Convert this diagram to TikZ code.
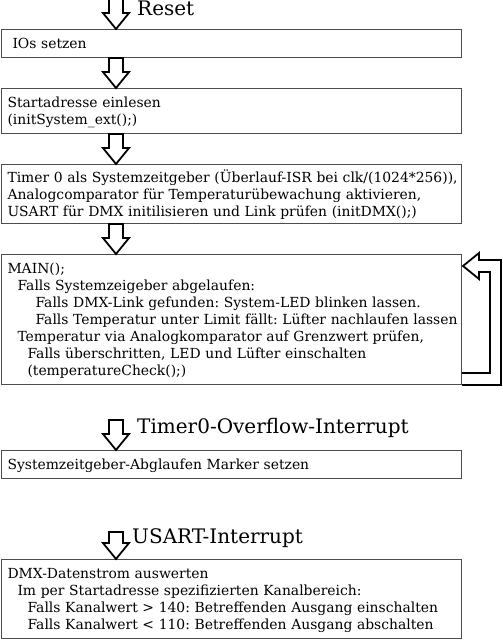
\documentclass[tikz,border=0pt]{standalone}
\usepackage{fontspec}
\setmainfont{DejaVu Serif}
\usetikzlibrary{calc,positioning}
\tikzset{
		x=1pt, y=1pt,
		stepbox/.style={
			rectangle,
			draw=black!70, line width=1pt,
			text width=458pt,
			inner xsep=1pt, inner ysep=5.5pt,
			align=left,
			font=\fontsize{13.9}{17}\selectfont\frenchspacing},
		pfeil/.style={draw=black, line width=1.8pt, fill=white, line join=miter},
		titel/.style={font=\fontsize{20}{23}\selectfont, inner sep=0pt},
	}
% hollow arrow down the axis, from #1 to tip at #2
\newcommand{\hohlpfeil}[2]{%
	\draw[pfeil] ($(achse |- #1)+(-7,0)$) -- ($(achse |- #2)+(-7,16)$) -- ($(achse |- #2)+(-13,16)$) -- (achse |- #2) -- ($(achse |- #2)+(13,16)$) -- ($(achse |- #2)+(7,16)$) -- ($(achse |- #1)+(7,0)$) -- cycle;}
\newcommand{\einzug}[1]{\hspace*{#1pt}}
\newcommand{\zeile}{\rule[-3.5pt]{0pt}{17pt}\hspace*{5pt}}
\begin{document}
\begin{tikzpicture}[node distance=30pt]
	\useasboundingbox (0,0) rectangle (503,-640);
	\coordinate (achse) at (116,0);
	
	%% Reset
	\coordinate (resetstart) at (116,2);
	\node[titel, anchor=base west] (reset) at (137,-15) {Reset};
	\node[stepbox, anchor=north west] (ios) at (1,-29) {\zeile\einzug{5}IOs setzen};
	\node[stepbox, below=of ios] (adresse) {\zeile Startadresse einlesen\\\zeile(initSystem\_ext();)};
	\node[stepbox, below=of adresse, inner ysep=4pt] (init) {\zeile\mbox{Timer 0 als Systemzeitgeber (Überlauf-ISR bei clk/(1024*256)),}\\\zeile Analogcomparator für Temperaturübewachung aktivieren,\\\zeile USART für DMX initilisieren und Link prüfen (initDMX();)};
	\node[stepbox, below=of init] (main) {\zeile MAIN();\\
		\zeile\einzug{10}Falls Systemzeigeber abgelaufen:\\
		\zeile\einzug{28}Falls DMX-Link gefunden: System-LED blinken lassen.\\
		\zeile\einzug{28}\mbox{Falls Temperatur unter Limit fällt: Lüfter nachlaufen lassen}\\
		\zeile\einzug{10}Temperatur via Analogkomparator auf Grenzwert prüfen,\\
		\zeile\einzug{20}Falls überschritten, LED und Lüfter einschalten\\
		\zeile\einzug{20}(temperatureCheck();)};
	
	\hohlpfeil{resetstart}{ios.north}
	\hohlpfeil{ios.south}{adresse.north}
	\hohlpfeil{adresse.south}{init.north}
	\hohlpfeil{init.south}{main.north}
	
	%% loop back into MAIN
	\draw[pfeil] (main.south east) -- ($(main.south east)+(39,0)$) -- ($(main.north east)+(39,-6)$) -- ($(main.north east)+(17,-6)$) -- ($(main.north east)+(17,1)$) -- ($(main.north east)+(1,-12)$) -- ($(main.north east)+(17,-25)$) -- ($(main.north east)+(17,-18)$) -- ($(main.north east)+(28,-18)$) -- ($(main.south east)+(28,12)$) -- ($(main.south east)+(0,12)$);
	
	%% Timer0
	\node[stepbox, below=65pt of main] (marker) {\zeile Systemzeitgeber-Abglaufen Marker setzen};
	\coordinate (timerstart) at (116,-420);
	\node[titel, anchor=base west] (timer) at (137,-433) {Timer0-Overflow-Interrupt};
	\hohlpfeil{timerstart}{marker.north}
	
	%% USART
	\node[stepbox, below=80pt of marker] (dmx) {\zeile DMX-Datenstrom auswerten\\
		\zeile\einzug{10}Im per Startadresse spezifizierten Kanalbereich:\\
		\zeile\einzug{20}Falls Kanalwert > 140: Betreffenden Ausgang einschalten\\
		\zeile\einzug{20}Falls Kanalwert < 110: Betreffenden Ausgang abschalten};
	\coordinate (usartstart) at (116,-532);
	\node[titel, anchor=base west] (usart) at (132,-543) {USART-Interrupt};
	\hohlpfeil{usartstart}{dmx.north}
\end{tikzpicture}
\end{document}
